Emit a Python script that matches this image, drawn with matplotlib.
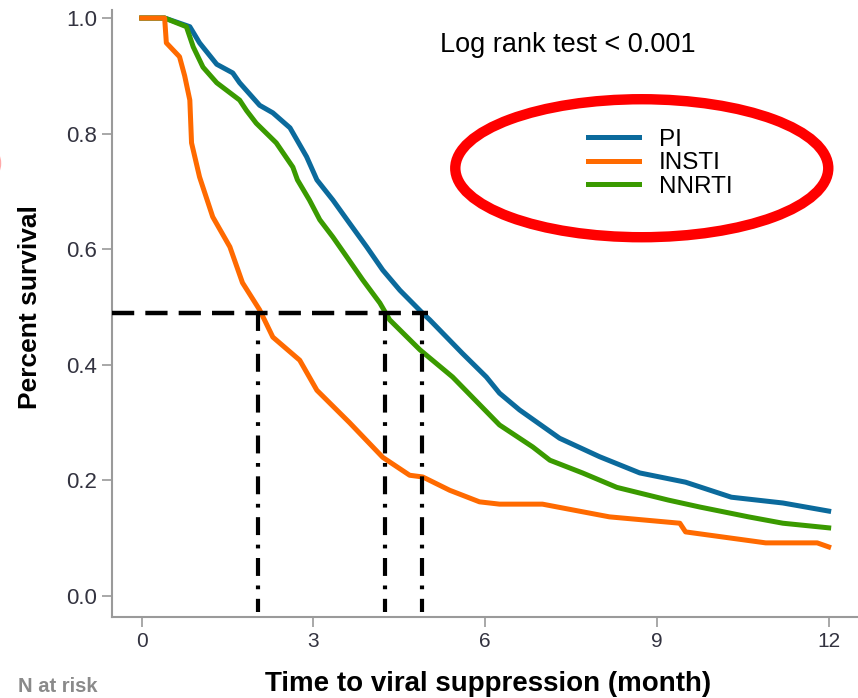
import matplotlib
matplotlib.use("Agg")
import matplotlib.pyplot as plt
from matplotlib import font_manager
from matplotlib.patches import Ellipse

# Kaplan-Meier curves (month, survival)
pi_t = [0, 0.4, 0.84, 1.01, 1.31, 1.59, 1.71, 2.06, 2.29, 2.59, 2.88, 3.06, 3.34,
        3.63, 3.93, 4.21, 4.51, 4.9, 5.03, 5.6, 6.02, 6.25, 6.6, 7.3, 8.0, 8.7,
        9.5, 10.3, 11.2, 12.0]
pi_s = [1.0, 1.0, 0.985, 0.957, 0.92, 0.905, 0.888, 0.849, 0.836, 0.81, 0.76, 0.72,
        0.685, 0.645, 0.604, 0.564, 0.529, 0.49, 0.478, 0.42, 0.379, 0.351, 0.322,
        0.273, 0.241, 0.213, 0.197, 0.171, 0.161, 0.147]

insti_t = [0, 0.4, 0.43, 0.66, 0.75, 0.84, 0.87, 1.01, 1.24, 1.54, 1.76, 2.06, 2.29,
           2.76, 3.06, 3.63, 4.21, 4.68, 4.91, 5.38, 5.9, 6.25, 7.0, 7.53, 8.17, 9.4,
           9.5, 10.9, 11.8, 12.0]
insti_s = [1.0, 1.0, 0.957, 0.933, 0.9, 0.858, 0.784, 0.725, 0.656, 0.604, 0.542,
           0.495, 0.448, 0.408, 0.356, 0.3, 0.24, 0.209, 0.206, 0.183, 0.163, 0.159,
           0.159, 0.149, 0.137, 0.126, 0.111, 0.092, 0.092, 0.085]

nnrti_t = [0, 0.4, 0.78, 0.9, 1.07, 1.31, 1.71, 1.83, 2.0, 2.35, 2.64, 2.72, 2.93,
           3.11, 3.34, 3.58, 3.86, 4.16, 4.33, 4.86, 5.43, 6.25, 6.83, 7.13, 7.7,
           8.3, 9.2, 9.75, 10.6, 11.2, 12.0]
nnrti_s = [1.0, 1.0, 0.985, 0.95, 0.915, 0.888, 0.858, 0.84, 0.818, 0.784, 0.742,
           0.72, 0.685, 0.651, 0.621, 0.587, 0.547, 0.507, 0.478, 0.426, 0.379, 0.296,
           0.258, 0.235, 0.213, 0.188, 0.166, 0.154, 0.137, 0.126, 0.118]

# median survival guide lines
median_level = 0.49
median_times = [2.03, 4.25, 4.9]

x_ticks = [0, 3, 6, 9, 12]
y_ticks = [0.0, 0.2, 0.4, 0.6, 0.8, 1.0]

colors = {'PI': '#0b6a9c', 'INSTI': '#ff6a00', 'NNRTI': '#3a9a00'}

# narrow font for x axis texts if it is there, otherwise a regular one
installed = {f.name for f in font_manager.fontManager.ttflist}
has_narrow = 'Liberation Sans Narrow' in installed
narrow = ['Liberation Sans Narrow', 'DejaVu Sans'] if has_narrow else ['Liberation Sans', 'DejaVu Sans']
regular = ['Liberation Sans', 'DejaVu Sans']
xlab_size = 22 if has_narrow else 20
xtick_size = 17 if has_narrow else 15
nrisk_size = 17 if has_narrow else 14.5

fig = plt.figure(figsize=(8.58, 6.98), dpi=100)
ax = fig.add_axes([0.1305, 0.116, 0.868, 0.8696])

ax.plot(pi_t, pi_s, color=colors['PI'], lw=3.6, label='PI', zorder=3)
ax.plot(nnrti_t, nnrti_s, color=colors['NNRTI'], lw=3.6, label='NNRTI', zorder=3)
ax.plot(insti_t, insti_s, color=colors['INSTI'], lw=3.6, label='INSTI', zorder=4)

# median guides
ax.plot([-0.52, max(median_times) + 0.1], [median_level, median_level],
        color='black', lw=3.2, dashes=(5, 2.5), zorder=5)
for t in median_times:
    ax.plot([t, t], [median_level, -0.028], color='black', lw=3.0,
            dashes=(4.3, 2.3, 0.9, 2.3), zorder=5)

ax.set_xlim(-0.52, 12.49)
ax.set_ylim(-0.0363, 1.0138)
ax.set_xticks(x_ticks)
ax.set_yticks(y_ticks)
ax.set_yticklabels([f'{v:.1f}' for v in y_ticks])

for side in ['top', 'right']:
    ax.spines[side].set_visible(False)
for side in ['left', 'bottom']:
    ax.spines[side].set_color('#9a9a9a')
    ax.spines[side].set_linewidth(1.5)
ax.tick_params(axis='both', colors='#9a9a9a', length=7, width=1.2)
for lab in ax.get_yticklabels():
    lab.set_fontsize(16)
    lab.set_color('#333340')
    lab.set_family(regular)
for lab in ax.get_xticklabels():
    lab.set_fontsize(xtick_size)
    lab.set_color('#333340')
    lab.set_family(narrow)

# legend (order as in the reference)
handles, labels = ax.get_legend_handles_labels()
order = [labels.index(n) for n in ['PI', 'INSTI', 'NNRTI']]
fig.legend([handles[i] for i in order], [labels[i] for i in order],
           loc='upper left', bbox_to_anchor=(0.666, 0.840), frameon=False,
           handlelength=2.1, labelspacing=0.06, handletextpad=0.8,
           borderpad=0.2, prop={'family': regular, 'size': 17.5})

fig.text(0.513, 0.935, 'Log rank test < 0.001', fontsize=19.5,
         family=regular, va='center', ha='left')

# red highlight ellipse around the legend
fig.add_artist(Ellipse((0.748, 0.759), 0.4347, 0.1977, transform=fig.transFigure,
                       fill=False, edgecolor='#ff0000', lw=7.5))
# edge of another red mark cut off at the left border
fig.add_artist(Ellipse((-0.036, 0.766), 0.07, 0.07, transform=fig.transFigure,
                       fill=False, edgecolor='#ff4040', lw=3, alpha=0.45))

fig.text(0.035, 0.56, 'Percent survival', rotation=90, fontsize=19, fontweight='bold',
         family=regular, ha='center', va='center')
fig.text(0.569, 0.02, 'Time to viral suppression (month)', fontsize=xlab_size,
         fontweight='bold', family=narrow, ha='center', va='center')
fig.text(0.021, 0.017, 'N at risk', fontsize=nrisk_size, fontweight='bold',
         color='#8a8a8a', family=narrow, ha='left', va='center')

fig.savefig('out.png', dpi=100)
